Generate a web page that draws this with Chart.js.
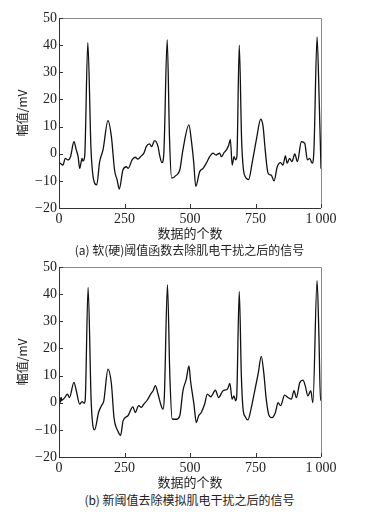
<!DOCTYPE html>
<html lang="zh">
<head>
  <meta charset="UTF-8" />
  <title>肌电干扰去除对比</title>
  <script src="https://cdn.jsdelivr.net/npm/chart.js"></script>
  <style>
    body { margin: 0; background: #fff; }
    .wrap { position: relative; width: 379px; height: 515px; }
    canvas { position: absolute; left: 0; }
    .cap { position: absolute; left: 0; width: 379px; text-align: center;
           font: 12px "Noto Sans CJK SC", sans-serif; color: #222; line-height: 14px; }
  </style>
</head>
<body>
<div class="wrap">
  <canvas id="chartA" width="379" height="242" style="top:0"></canvas>
  <canvas id="chartB" width="379" height="242" style="top:249px"></canvas>
  <div class="cap" style="top:243px">(a) 软(硬)阈值函数去除肌电干扰之后的信号</div>
  <div class="cap" style="top:493px">(b) 新阈值去除模拟肌电干扰之后的信号</div>
</div>

<script>
  // axis settings
  const xTicks = [0, 250, 500, 750, 1000];
  const yTicks = [-20, -10, 0, 10, 20, 30, 40, 50];

  // (a) soft/hard threshold result: sample index, amplitude (mV)
  const xA = [0, 3, 15, 24, 34, 44, 57, 66, 73, 79, 88, 91, 98, 110, 122, 131, 144, 155, 168, 187,
    200, 212, 222, 230, 244, 257, 264, 279, 291, 301, 314, 324, 333, 346, 353, 365, 378, 384, 393, 400,
    413, 422, 430, 448, 461, 473, 496, 505, 514, 522, 537, 550, 562, 575, 588, 599, 613, 620, 630, 639,
    648, 654, 661, 668, 674, 679, 688, 697, 703, 711, 724, 737, 753, 770, 779, 787, 798, 810, 821, 833,
    846, 855, 864, 871, 880, 889, 900, 910, 925, 938, 948, 957, 966, 973, 985, 993, 1000];
  const yA = [-3.5, -3.5, -4.2, -1.7, -2.3, -1.1, 4.4, 1.4, -1.1, -5.4, -1.7, -2.7, -1, 41, 2, -9, -11.5, -3, 1.4, 12.2,
    6.3, -6, -9.7, -13, -6, -4.8, -5.4, -2.3, -1.3, -2, -0.8, 0.2, 2.6, 3.6, 2.6, 4.8, 2.6, -0.5, -3.3, 0,
    42, 5, -9, -7.9, -6, 1.4, 10.6, 5, -3, -12, -6.6, -5.4, -3.5, -1.1, 0.2, -0.5, 0.2, -1.1, 0.4, 1.4,
    3.2, 5.3, -4.2, -1.1, -2.3, -1, 40, 5, -5, -8.5, -9.5, -3.5, 5, 12.7, 10, 1.4, -7.2, -7.9, -10, -4.8,
    -3.3, -4.2, -0.8, -3.5, -1.7, -2.9, -0.1, -2.9, 4.4, 3.8, -2.3, -1.7, -3.5, 1.4, 43, 20, -5.5];

  // (b) new threshold result
  const xB = [0, 3, 6, 8, 11, 22, 32, 40, 57, 66, 79, 88, 96, 100, 111, 123, 136, 151, 162, 171,
    187, 200, 210, 225, 235, 245, 263, 282, 291, 304, 314, 324, 337, 350, 359, 368, 378, 388, 397, 402,
    414, 423, 432, 448, 461, 473, 486, 496, 502, 515, 524, 533, 543, 556, 566, 579, 597, 609, 626, 643,
    652, 661, 668, 674, 678, 688, 696, 702, 711, 721, 734, 747, 760, 772, 782, 791, 802, 813, 826, 836,
    846, 861, 874, 887, 897, 906, 919, 931, 940, 950, 961, 969, 985, 992, 998, 1000];
  const yB = [3, 1.3, 0.1, 2, 0.9, 1.9, 3.2, 1.9, 7.5, 4.4, -0.5, 0.4, -0.2, 1, 42.5, 0, -10, -3.6, -1.1, 0.7,
    12.4, 7, -5.5, -10.5, -12, -6.5, -4.8, -1.5, -3.6, -1.1, -1.7, -0.5, 1, 3.2, 4.4, 6.3, 3.2, -0.5, -2.4, 2,
    43.5, 10, -6, -6.1, -4.8, 4.4, 8.7, 13.6, 8.1, -0.5, -7.3, -4.8, -3.6, -0.5, 3.2, 2.2, 4.6, 1.9, 4.4, 5,
    7.1, 1.3, 2.5, 0.7, 2, 41, 10, -1.8, -5.2, -6.3, -1.8, 4.4, 10.6, 17.1, 10.6, 1.3, -4.8, -5.5, -3.6, 0,
    -1.1, 2.8, 1.9, 1.3, 4.4, 1.9, 7.4, 8.3, 6.2, 2.5, 4.4, 0, 45, 25, 1, 1];

  const serif = { family: '"Liberation Serif", "DejaVu Serif", serif', size: 14 };
  const cjk = { family: '"Noto Sans CJK SC", sans-serif', size: 12 };

  // frame and inward tick marks, placed through the chart scales
  const framePlugin = {
    id: 'frame',
    afterDatasetsDraw(chart) {
      const { ctx, chartArea: a, scales: { x, y } } = chart;
      ctx.save();
      ctx.lineWidth = 1;
      ctx.strokeStyle = '#8a8a8a';
      ctx.beginPath();
      ctx.moveTo(a.left, a.top + 0.5); ctx.lineTo(a.right + 0.5, a.top + 0.5);
      ctx.lineTo(a.right + 0.5, a.bottom);
      ctx.stroke();
      ctx.strokeStyle = '#333';
      ctx.beginPath();
      ctx.moveTo(a.left + 0.5, a.top); ctx.lineTo(a.left + 0.5, a.bottom + 0.5);
      ctx.lineTo(a.right, a.bottom + 0.5);
      yTicks.forEach(v => {
        const py = Math.round(y.getPixelForValue(v)) + 0.5;
        ctx.moveTo(a.left, py); ctx.lineTo(a.left + 4, py);
      });
      xTicks.forEach(v => {
        const px = Math.round(x.getPixelForValue(v)) + 0.5;
        ctx.moveTo(px, a.bottom); ctx.lineTo(px, a.bottom - 4);
      });
      ctx.stroke();
      ctx.restore();
    }
  };

  function makeChart(id, xs, ys) {
    return new Chart(document.getElementById(id), {
      type: 'line',
      data: {
        datasets: [{
          data: xs.map((v, i) => ({ x: v, y: ys[i] })),
          borderColor: '#111',
          borderWidth: 1.3,
          pointRadius: 0,
          cubicInterpolationMode: 'monotone',
          fill: false
        }]
      },
      options: {
        responsive: false,
        animation: false,
        parsing: false,
        layout: { padding: { left: 0, right: 58, top: 18, bottom: 0 } },
        plugins: { legend: { display: false }, tooltip: { enabled: false } },
        scales: {
          x: {
            type: 'linear', min: 0, max: 1000,
            afterBuildTicks: s => { s.ticks = xTicks.map(v => ({ value: v })); },
            afterFit: s => { s.height = 34; },
            grid: { display: false, drawTicks: false },
            border: { display: false },
            ticks: {
              color: '#222', font: serif, padding: 3, maxRotation: 0,
              callback: v => v === 1000 ? '1\u2009000' : String(v)
            },
            title: { display: true, text: '数据的个数', color: '#222',
                     font: { family: cjk.family, size: 13 }, padding: { top: 0, bottom: 1 } }
          },
          y: {
            min: -20, max: 50,
            afterBuildTicks: s => { s.ticks = yTicks.map(v => ({ value: v })); },
            afterFit: s => { s.width = 59; },
            grid: { display: false, drawTicks: false },
            border: { display: false },
            ticks: {
              color: '#222', font: serif, padding: 2,
              callback: v => v < 0 ? '\u2212' + Math.abs(v) : String(v)
            },
            title: { display: true, text: '幅值/mV', color: '#222',
                     font: cjk, padding: { top: 15, bottom: 0 } }
          }
        }
      },
      plugins: [framePlugin]
    });
  }

  makeChart('chartA', xA, yA);
  makeChart('chartB', xB, yB);
</script>
</body>
</html>
